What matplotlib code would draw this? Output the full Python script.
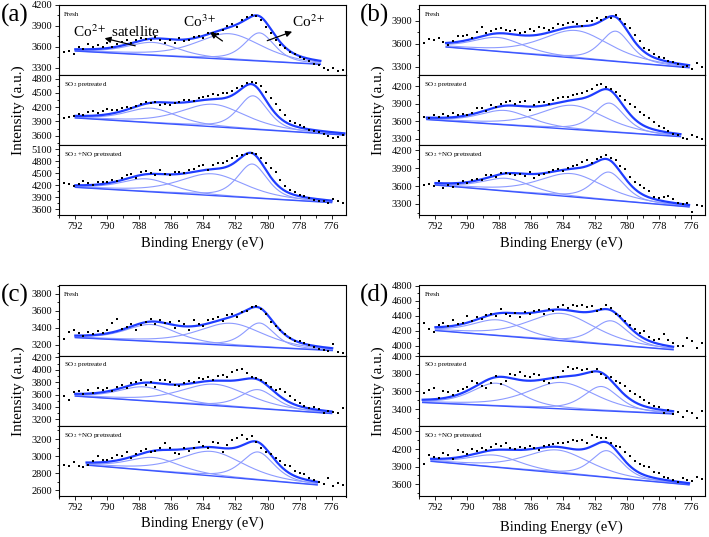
import numpy as np
import matplotlib

matplotlib.use("Agg")
import matplotlib.pyplot as plt
from matplotlib.ticker import MultipleLocator, AutoMinorLocator

plt.rcParams["font.family"] = ["Liberation Serif", "DejaVu Serif"]
plt.rcParams["mathtext.fontset"] = "stix"

# measured binding energy grid (eV), one point every 0.3 eV
ENERGY = np.round(np.arange(793.0, 775.2, -0.3), 1)

A_FRESH = [3570, 3530, 3545, 3500, 3600, 3560, 3640, 3590, 3620, 3600,
           3650, 3600, 3640, 3670, 3690, 3660, 3700, 3730, 3710, 3690,
           3740, 3690, 3660, 3700, 3650, 3720, 3680, 3700, 3740, 3760,
           3730, 3790, 3800, 3780, 3840, 3900, 3930, 3880, 3990, 4030,
           4050, 4040, 3980, 3890, 3790, 3700, 3620, 3580, 3530, 3490,
           3450, 3420, 3400, 3350, 3330, 3300, 3260, 3290, 3250, 3270]
A_SO2 = [3990, 3970, 3990, 4020, 4060, 4040, 4090, 4110, 4080, 4120,
         4160, 4130, 4150, 4190, 4210, 4180, 4230, 4260, 4300, 4280,
         4300, 4250, 4270, 4240, 4280, 4310, 4340, 4360, 4330, 4400,
         4410, 4430, 4480, 4450, 4500, 4490, 4540, 4600, 4640, 4700,
         4730, 4710, 4640, 4520, 4400, 4270, 4150, 4030, 3920, 3870,
         3830, 3790, 3730, 3700, 3680, 3640, 3600, 3560, 3580, 3610]
A_NO = [4150, 4260, 4220, 4180, 4240, 4300, 4250, 4200, 4280, 4270,
        4290, 4340, 4310, 4390, 4450, 4490, 4380, 4520, 4560, 4500,
        4450, 4580, 4490, 4450, 4520, 4530, 4500, 4570, 4600, 4680,
        4700, 4570, 4710, 4750, 4760, 4800, 4880, 4930, 4950, 4990,
        5000, 4980, 4880, 4760, 4640, 4520, 4330, 4180, 4080, 4030,
        3950, 3920, 3880, 3820, 3800, 3800, 3760, 3850, 3810, 3760]
B_FRESH = [3680, 3610, 3660, 3650, 3680, 3620, 3580, 3640, 3700, 3700,
           3720, 3670, 3750, 3820, 3740, 3760, 3790, 3800, 3780, 3760,
           3780, 3740, 3750, 3790, 3760, 3820, 3800, 3780, 3810, 3860,
           3840, 3870, 3880, 3860, 3830, 3890, 3900, 3930, 3910, 3950,
           3940, 3980, 3920, 3860, 3800, 3720, 3640, 3540, 3520, 3470,
           3430, 3410, 3380, 3360, 3330, 3300, 3310, 3270, 3350, 3300]
B_SO2 = [3620, 3680, 3660, 3700, 3680, 3720, 3690, 3740, 3700, 3730,
         3710, 3740, 3820, 3830, 3780, 3870, 3850, 3900, 3920, 3950,
         3890, 3920, 3950, 3800, 3880, 3920, 3930, 3900, 3960, 3990,
         4010, 4020, 4040, 4060, 4080, 4120, 4150, 4210, 4230, 4180,
         4150, 4100, 4030, 3960, 3900, 3840, 3760, 3700, 3650, 3580,
         3520, 3480, 3430, 3390, 3370, 3320, 3300, 3360, 3330, 3300]
B_NO = [3500, 3610, 3640, 3600, 3680, 3570, 3610, 3580, 3640, 3680,
        3650, 3700, 3720, 3700, 3780, 3790, 3760, 3820, 3820, 3810,
        3790, 3800, 3770, 3830, 3740, 3780, 3810, 3830, 3870, 3880,
        3860, 3900, 3930, 3960, 4010, 4040, 3990, 4060, 4090, 4120,
        4080, 4030, 3940, 3880, 3760, 3670, 3620, 3560, 3520, 3420,
        3400, 3410, 3440, 3380, 3320, 3300, 3310, 3170, 3280, 3260]
C_FRESH = [3430, 3270, 3350, 3380, 3340, 3300, 3350, 3330, 3360, 3340,
           3380, 3460, 3500, 3390, 3410, 3440, 3380, 3430, 3470, 3510,
           3440, 3490, 3460, 3470, 3400, 3480, 3450, 3370, 3490, 3440,
           3420, 3490, 3510, 3530, 3480, 3550, 3560, 3530, 3590, 3600,
           3650, 3660, 3620, 3560, 3470, 3420, 3380, 3330, 3280, 3240,
           3250, 3220, 3200, 3170, 3150, 3140, 3130, 3210, 3110, 3100]
C_SO2 = [3610, 3570, 3520, 3640, 3650, 3610, 3680, 3620, 3710, 3680,
         3700, 3660, 3720, 3750, 3700, 3780, 3800, 3840, 3760, 3810,
         3720, 3840, 3830, 3810, 3760, 3740, 3790, 3820, 3800, 3860,
         3850, 3880, 3830, 3900, 3920, 3890, 3960, 4000, 4020, 3950,
         3880, 3870, 3830, 3780, 3720, 3680, 3690, 3640, 3570, 3520,
         3460, 3420, 3380, 3400, 3360, 3310, 3340, 3320, 3300, 3390]
C_NO = [2920, 2900, 2880, 2930, 2880, 2870, 2900, 2940, 3000, 2960,
        2950, 2980, 3010, 3000, 3050, 2980, 3030, 3060, 3080, 3050,
        3060, 3100, 3150, 3090, 3040, 3020, 3090, 3060, 3100, 3160,
        3120, 3100, 3170, 3150, 3050, 3130, 3190, 3210, 3250, 3200,
        3240, 3160, 3100, 3050, 3020, 2980, 2940, 2900, 2880, 2830,
        2800, 2790, 2740, 2720, 2700, 2680, 2740, 2650, 2690, 2660]
D_FRESH = [4270, 4310, 4220, 4190, 4280, 4300, 4260, 4350, 4290, 4300,
           4400, 4330, 4380, 4360, 4410, 4420, 4400, 4490, 4420, 4400,
           4440, 4390, 4450, 4420, 4470, 4480, 4430, 4490, 4460, 4520,
           4540, 4500, 4540, 4530, 4550, 4520, 4530, 4470, 4490, 4550,
           4500, 4430, 4400, 4330, 4280, 4230, 4170, 4200, 4120, 4080,
           4090, 4160, 4070, 4030, 4000, 4000, 4110, 4060, 3970, 4030]
D_SO2 = [3510, 3580, 3620, 3640, 3530, 3610, 3590, 3560, 3610, 3630,
         3650, 3720, 3700, 3660, 3640, 3700, 3780, 3690, 3720, 3800,
         3790, 3820, 3780, 3760, 3800, 3790, 3720, 3700, 3750, 3760,
         3830, 3880, 3860, 3870, 3840, 3850, 3820, 3860, 3800, 3750,
         3760, 3720, 3700, 3660, 3600, 3570, 3540, 3500, 3470, 3440,
         3420, 3360, 3390, 3340, 3370, 3310, 3380, 3360, 3300, 3380]
D_NO = [3980, 3940, 4100, 4060, 4050, 4140, 4100, 4030, 4180, 4150,
        4120, 4200, 4170, 4220, 4180, 4230, 4280, 4250, 4300, 4220,
        4200, 4240, 4210, 4250, 4220, 4180, 4250, 4270, 4290, 4300,
        4310, 4320, 4350, 4330, 4360, 4300, 4440, 4400, 4380, 4390,
        4300, 4250, 4240, 4150, 4080, 4000, 3950, 3910, 3900, 3810,
        3790, 3720, 3700, 3680, 3640, 3700, 3680, 3650, 3720, 3690]

# ---- fit results: range, linear background ends, peaks (centre, height, fwhm) ----
A_FRESH_FIT = [(792.0, 776.7), (3537, 3346), [(787.15, 185, 3.8), (782.4, 370, 4.8), (780.5, 405, 2.2)]]
A_SO2_FIT = [(792.0, 775.2), (3974, 3616), [(787.25, 305, 3.8), (783.4, 470, 4.8), (780.9, 700, 2.2)]]
A_NO_FIT = [(792.0, 776.0), (4146, 3763), [(787.55, 320, 3.8), (783.45, 545, 4.8), (780.95, 850, 2.2)]]
B_FRESH_FIT = [(791.33, 776.1), (3557, 3287), [(788.07, 182, 3.8), (783.2, 360, 5.0), (780.7, 395, 2.2)]]
B_SO2_FIT = [(792.54, 776.64), (3629, 3338), [(787.65, 245, 3.8), (783.4, 410, 4.8), (781.1, 490, 2.3)]]
B_NO_FIT = [(792.0, 776.1), (3617, 3249), [(787.53, 216, 3.6), (783.48, 390, 4.8), (781.13, 470, 2.3)]]
C_FRESH_FIT = [(792.0, 775.96), (3285, 3132), [(787.26, 200, 3.8), (782.29, 262, 4.8), (780.5, 282, 2.2)]]
C_SO2_FIT = [(792.0, 776.0), (3575, 3294), [(787.7, 225, 3.8), (783.3, 345, 5.0), (780.6, 305, 2.6)]]
C_NO_FIT = [(791.3, 776.9), (2896, 2665), [(787.1, 156, 3.8), (783.5, 285, 4.8), (780.6, 325, 2.4)]]
D_FRESH_FIT = [(792.0, 777.1), (4203, 3946), [(788.1, 210, 3.8), (784.1, 365, 5.0), (781.0, 320, 2.6)]]
D_SO2_FIT = [(792.8, 777.1), (3474, 3344), [(788.2, 258, 3.6), (784.1, 300, 5.0), (781.6, 275, 2.6)]]
D_NO_FIT = [(792.27, 776.1), (3990, 3589), [(788.3, 205, 3.8), (784.35, 390, 4.8), (781.25, 455, 2.3)]]

# y-axis limits and tick step per sub-panel
A_LIMS = [((3190, 4200), 300), ((3400, 4870), 300), ((3440, 5200), 300)]
B_LIMS = [((3190, 4105), 300), ((3190, 4385), 300), ((3105, 4285), 300)]
C_LIMS = [((3070, 3900), 200), ((3090, 4225), 200), ((2530, 3350), 200)]
D_LIMS = [((3865, 4805), 200), ((3205, 4005), 200), ((3390, 4590), 300)]

CONDITIONS = ["Fresh", "SO$_2$ pretreated", "SO$_2$ +NO pretreated"]

ENV_COLOR = "#1f3dff"
COMP_COLOR = "#8d9bff"
BG_COLOR = "#3a55ff"


def pseudo_voigt(x, centre, height, fwhm, eta=0.5):
    u = (x - centre) / fwhm
    gauss = np.exp(-4 * np.log(2) * u ** 2)
    lorentz = 1 / (1 + 4 * u ** 2)
    return height * ((1 - eta) * gauss + eta * lorentz)


def draw_sub(ax, data, fit, lims):
    (x0, x1), (b0, b1), peaks = fit
    xs = np.linspace(x0, x1, 400)
    bg = b0 + (b1 - b0) * (xs - x0) / (x1 - x0)
    total = bg.copy()
    for c, h, w in peaks:
        comp = pseudo_voigt(xs, c, h, w)
        total += comp
        ax.plot(xs, bg + comp, color=COMP_COLOR, lw=0.8, zorder=2)
    ax.plot(xs, bg, color=BG_COLOR, lw=1.0, zorder=2)
    ax.plot(xs, total, color=ENV_COLOR, lw=1.6, zorder=3)
    ax.scatter(ENERGY, data, s=2.2, color="black", marker="s", lw=0, zorder=4)
    (ylo, yhi), step = lims
    ax.set_ylim(ylo, yhi)
    ax.set_xlim(793.05, 775.1)
    ax.xaxis.set_major_locator(MultipleLocator(2))
    ax.xaxis.set_minor_locator(MultipleLocator(1))
    ax.yaxis.set_major_locator(MultipleLocator(step))
    ax.yaxis.set_minor_locator(AutoMinorLocator(2))
    ax.tick_params(which="both", direction="out", width=0.6, labelsize=7.5, pad=1.5)
    ax.tick_params(which="major", length=3)
    ax.tick_params(which="minor", length=1.8)
    for sp in ax.spines.values():
        sp.set_linewidth(0.8)


W, H = 709, 537
fig = plt.figure(figsize=(W / 100, H / 100), dpi=100)

panels = [
    ("(a)", 58.5, 346, 5, 215.5, [A_FRESH, A_SO2, A_NO], [A_FRESH_FIT, A_SO2_FIT, A_NO_FIT], A_LIMS, 243),
    ("(b)", 418.7, 705, 5, 215.5, [B_FRESH, B_SO2, B_NO], [B_FRESH_FIT, B_SO2_FIT, B_NO_FIT], B_LIMS, 243),
    ("(c)", 58.5, 346, 285.5, 496.5, [C_FRESH, C_SO2, C_NO], [C_FRESH_FIT, C_SO2_FIT, C_NO_FIT], C_LIMS, 523),
    ("(d)", 418.7, 705, 285.5, 496.5, [D_FRESH, D_SO2, D_NO], [D_FRESH_FIT, D_SO2_FIT, D_NO_FIT], D_LIMS, 527),
]

axes_a_fresh = None
for tag, left, right, top, bottom, datas, fits, lims, xlab_y in panels:
    h = (bottom - top) / 3
    for i in range(3):
        y_top = top + i * h
        ax = fig.add_axes([left / W, 1 - (y_top + h) / H, (right - left) / W, h / H])
        draw_sub(ax, datas[i], fits[i], lims[i])
        ax.text(0.02, 0.87, CONDITIONS[i], transform=ax.transAxes, fontsize=5, va="center", ha="left")
        if i < 2:
            ax.tick_params(labelbottom=False)
        if tag == "(a)" and i == 0:
            axes_a_fresh = ax
    fig.text((left + right) / 2 / W, 1 - xlab_y / H, "Binding Energy (eV)", ha="center", va="center", fontsize=10.5)
    fig.text((left - 40) / W, 1 - (top + bottom) / 2 / H, "Intensity (a.u.)", rotation=90,
             ha="center", va="center", fontsize=11)
    fig.text((left - 44) / W, 1 - (top + 10) / H, tag, ha="center", va="center", fontsize=18)

# peak assignments in panel (a), fresh sample
ax = axes_a_fresh
arrow = dict(arrowstyle="-|>", color="black", lw=0.9, mutation_scale=9)
ax.annotate("", xy=(790.34, 3731), xytext=(788.09, 3603), arrowprops=arrow)
ax.annotate("", xy=(783.73, 3830), xytext=(782.67, 3659), arrowprops=arrow)
ax.annotate("", xy=(778.3, 3830), xytext=(780.18, 3673), arrowprops=arrow)
ax.text(792.15, 3816, "Co$^{2+}$ satellite", fontsize=11, ha="left", va="center")
ax.text(784.2, 3958, "Co$^{3+}$", fontsize=11, ha="center", va="center")
ax.text(777.4, 3958, "Co$^{2+}$", fontsize=11, ha="center", va="center")

fig.savefig("out.png", dpi=100)
